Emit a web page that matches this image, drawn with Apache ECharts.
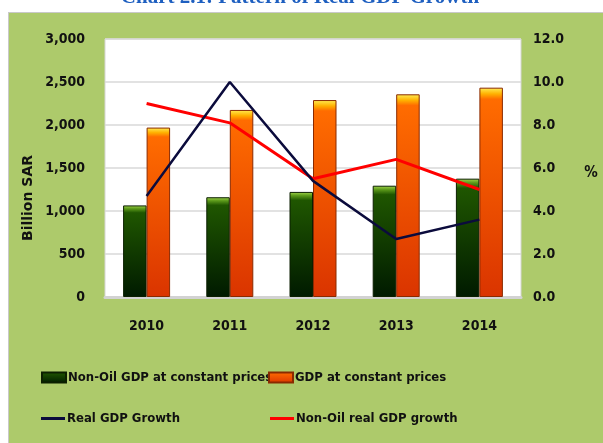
<!DOCTYPE html>
<html>
<head>
<meta charset="utf-8">
<script src="https://cdn.jsdelivr.net/npm/echarts@6/dist/echarts.min.js"></script>
<style>
html,body{margin:0;padding:0;background:#ffffff;}
#bg{position:absolute;left:8px;top:12px;width:595px;height:431px;background:#adca6b;border-left:1px solid #c9c9c9;border-top:1px solid #c9c9c9;box-sizing:border-box;}
#main{position:absolute;left:0;top:0;width:603px;height:443px;}
</style>
</head>
<body>
<div id="bg"></div>
<div id="main"></div>
<script>
const categories = ['2010', '2011', '2012', '2013', '2014'];
const nonOilGDP = [1065, 1160, 1222, 1294, 1376];
const gdp = [1970, 2175, 2290, 2357, 2434];
const realGDPGrowth = [4.7, 10.0, 5.4, 2.7, 3.6];
const nonOilGrowth = [9.0, 8.1, 5.5, 6.4, 5.0];
const leftTicks = [0, 3000, 500];
const rightTicks = [0, 12, 2];

const FONT = '"DejaVu Sans Condensed", "DejaVu Sans", sans-serif';

const greenFill = new echarts.graphic.LinearGradient(0, 0, 0, 1, [
  {offset: 0, color: '#a6d84e'},
  {offset: 0.035, color: '#5c9a1a'},
  {offset: 0.08, color: '#1f5600'},
  {offset: 1, color: '#001a00'}
]);
const orangeFill = new echarts.graphic.LinearGradient(0, 0, 0, 1, [
  {offset: 0, color: '#ffef55'},
  {offset: 0.03, color: '#ffb000'},
  {offset: 0.055, color: '#ff6c00'},
  {offset: 1, color: '#da3400'}
]);

const chart = echarts.init(document.getElementById('main'), null, {renderer: 'canvas'});
const legendBase = {
  padding: 0,
  itemWidth: 24, itemHeight: 10, itemGap: 0,
  textStyle: {fontFamily: FONT, fontSize: 13, fontWeight: 'bold', color: '#111', padding: [0, 0, 0, -3]},
  selectedMode: false
};
chart.setOption({
  backgroundColor: 'transparent',
  animation: false,
  grid: {left: 105, right: 82, top: 39, bottom: 146, show: true, backgroundColor: '#ffffff', borderColor: '#d6d6d6', borderWidth: 1},
  legend: [
    Object.assign({}, legendBase, {left: 41, top: 371, data: [{name: 'Non-Oil GDP at constant prices', icon: 'rect'}]}),
    Object.assign({}, legendBase, {left: 268, top: 371, data: [{name: 'GDP at constant prices', icon: 'rect'}]}),
    Object.assign({}, legendBase, {left: 41, top: 412, itemHeight: 3, data: [{name: 'Real GDP Growth', icon: 'rect'}]}),
    Object.assign({}, legendBase, {left: 270, top: 412, itemHeight: 3, data: [{name: 'Non-Oil real GDP growth', icon: 'rect'}]})
  ],
  xAxis: {
    type: 'category', data: categories,
    axisLine: {show: true, lineStyle: {color: '#d2d2d2', width: 3}},
    axisTick: {show: false},
    axisLabel: {margin: 22, fontFamily: FONT, fontSize: 14, fontWeight: 'bold', color: '#111'}
  },
  yAxis: [
    {
      type: 'value', min: leftTicks[0], max: leftTicks[1], interval: leftTicks[2],
      axisLine: {show: false}, axisTick: {show: false},
      splitLine: {lineStyle: {color: '#d9d9d9', width: 1.5}},
      axisLabel: {margin: 20, fontFamily: FONT, fontSize: 14, fontWeight: 'bold', color: '#111',
        formatter: v => v.toLocaleString('en-US')}
    },
    {
      type: 'value', min: rightTicks[0], max: rightTicks[1], interval: rightTicks[2],
      axisLine: {show: false}, axisTick: {show: false}, splitLine: {show: false},
      axisLabel: {margin: 12, fontFamily: FONT, fontSize: 14, fontWeight: 'bold', color: '#111',
        formatter: v => v.toFixed(1)}
    }
  ],
  graphic: [
    {type: 'text', x: 300, y: 8, z: 10, style: {text: 'Chart 2.1: Pattern of Real GDP Growth', font: 'bold 21px "Liberation Serif", serif', fill: '#1e5fc0', align: 'center', verticalAlign: 'bottom'}},
    {type: 'text', x: 28, y: 198, rotation: Math.PI / 2, style: {text: 'Billion SAR', font: 'bold 14px "DejaVu Sans", sans-serif', fill: '#111', align: 'center', verticalAlign: 'middle'}},
    {type: 'text', x: 591, y: 173, style: {text: '%', font: 'bold 15px "DejaVu Sans Condensed", sans-serif', fill: '#111', align: 'center', verticalAlign: 'middle'}}
  ],
  series: [
    {name: 'Non-Oil GDP at constant prices', type: 'bar', data: nonOilGDP, barWidth: 23.5, barGap: '0%',
      itemStyle: {color: greenFill, borderColor: '#0b1f00', borderWidth: 1}},
    {name: 'GDP at constant prices', type: 'bar', data: gdp, barWidth: 23.5, barGap: '0%',
      itemStyle: {color: orangeFill, borderColor: '#8a2a00', borderWidth: 1}},
    {name: 'Real GDP Growth', type: 'line', yAxisIndex: 1, data: realGDPGrowth, symbol: 'none',
      lineStyle: {color: '#0b0b3c', width: 2.5}, itemStyle: {color: '#0b0b3c'}, z: 5},
    {name: 'Non-Oil real GDP growth', type: 'line', yAxisIndex: 1, data: nonOilGrowth, symbol: 'none',
      lineStyle: {color: '#ff0000', width: 3}, itemStyle: {color: '#ff0000'}, z: 4}
  ]
});
</script>
</body>
</html>
